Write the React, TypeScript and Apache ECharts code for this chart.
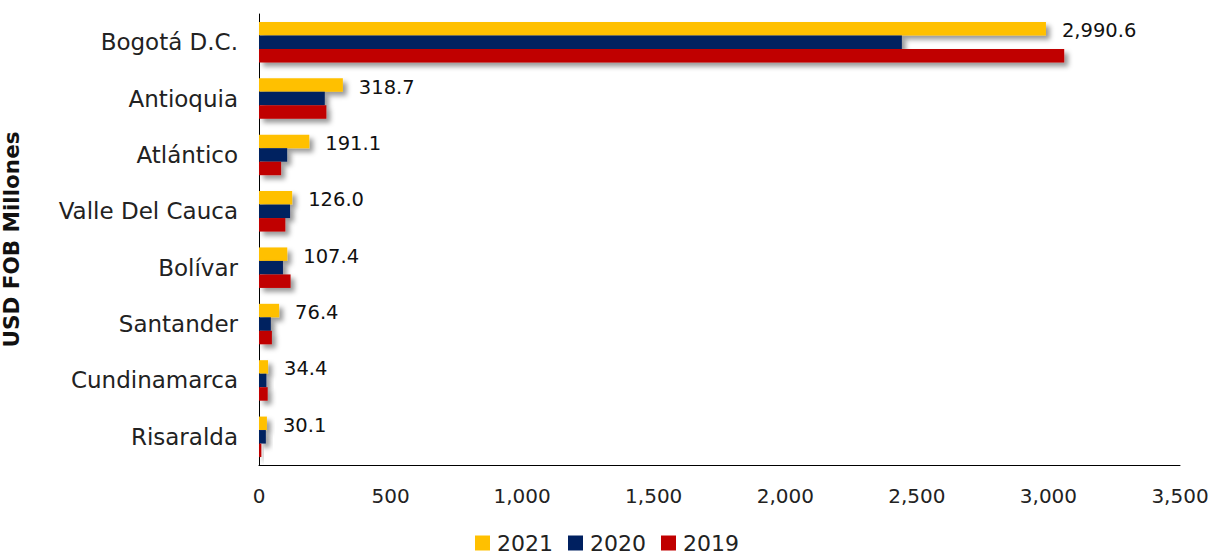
import React, { useEffect, useRef } from "react";
import * as echarts from "echarts";

const categories = ["Bogotá D.C.", "Antioquia", "Atlántico", "Valle Del Cauca", "Bolívar", "Santander", "Cundinamarca", "Risaralda"];
const values2021 = [2990.6, 318.7, 191.1, 126.0, 107.4, 76.4, 34.4, 30.1];
const values2020 = [2443, 250, 107, 118, 91, 45, 28, 26];
const values2019 = [3060, 256, 84, 100, 120, 49, 33, 9];
const seriesNames = ["2021", "2020", "2019"];
const colors = ["#FFC000", "#002060", "#C00000"];
const xTicks = { min: 0, max: 3500, interval: 500 };

const FONT = "'DejaVu Sans', 'Open Sans', sans-serif";

const fmtAxis = (v: number) => v.toLocaleString("en-US");
const fmtLabel = (v: number) =>
  v.toLocaleString("en-US", { minimumFractionDigits: 1, maximumFractionDigits: 1 });

export default function App() {
  const ref = useRef<HTMLDivElement>(null);
  useEffect(() => {
    if (!ref.current) return;
    const chart = echarts.init(ref.current, null, { renderer: "svg" });
    const data = [values2021, values2020, values2019];
    chart.setOption({
      animation: false,
      textStyle: { fontFamily: FONT },
      grid: { left: 259, right: 34, top: 14, bottom: 89, containLabel: false, outerBoundsMode: "none" },
      legend: {
        bottom: 0,
        left: "center",
        padding: 0,
        itemWidth: 15,
        itemHeight: 15,
        itemGap: 15,
        icon: "rect",
        textStyle: { fontSize: 22, color: "#222", fontFamily: FONT, padding: [0, 0, 0, 2] },
        data: seriesNames,
      },
      xAxis: {
        type: "value",
        min: xTicks.min,
        max: xTicks.max,
        interval: xTicks.interval,
        axisLine: { show: true, lineStyle: { color: "#000", width: 1 } },
        axisTick: { show: false },
        splitLine: { show: false },
        axisLabel: { fontSize: 20, color: "#222", margin: 21, formatter: fmtAxis },
      },
      yAxis: {
        type: "category",
        data: categories,
        inverse: true,
        name: "USD FOB Millones",
        nameLocation: "middle",
        nameRotate: 90,
        nameGap: 237,
        nameTextStyle: { fontSize: 21.5, fontWeight: "bold", color: "#111", fontFamily: FONT },
        axisLine: { show: true, lineStyle: { color: "#000", width: 1 } },
        axisTick: { show: false },
        axisLabel: { fontSize: 23, color: "#222", margin: 21 },
      },
      series: seriesNames.map((name, i) => ({
        name,
        type: "bar",
        data: data[i],
        barWidth: 13.5,
        barGap: "0%",
        itemStyle: {
          color: colors[i],
          shadowColor: "rgba(0,0,0,0.4)",
          shadowBlur: 5,
          shadowOffsetX: 4,
          shadowOffsetY: 4,
        },
        label:
          i === 0
            ? {
                show: true,
                position: "right",
                distance: 16,
                fontSize: 19.5,
                color: "#111",
                fontFamily: FONT,
                offset: [0, 2],
                formatter: (p: any) => fmtLabel(p.value),
              }
            : { show: false },
      })),
    });
    return () => chart.dispose();
  }, []);
  return <div ref={ref} style={{ position: "absolute", left: 0, top: 0, width: 1214, height: 554 }} />;
}
